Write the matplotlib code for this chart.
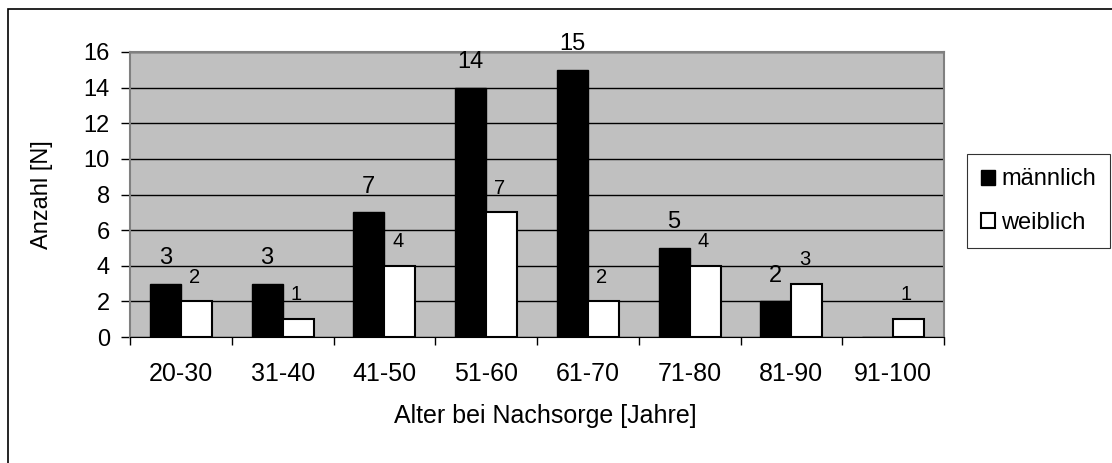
import matplotlib.pyplot as plt
import numpy as np
from matplotlib.patches import Rectangle

categories = ["20-30", "31-40", "41-50", "51-60", "61-70", "71-80", "81-90", "91-100"]
maennlich = [3, 3, 7, 14, 15, 5, 2, 0]
weiblich = [2, 1, 4, 7, 2, 4, 3, 1]

plt.rcParams["font.family"] = ["Liberation Sans", "DejaVu Sans"]

fig = plt.figure(figsize=(11.12, 4.63), dpi=100)
ax = fig.add_axes([130 / 1112, 1 - 337 / 463, 814 / 1112, 285 / 463])
ax.set_facecolor("#c0c0c0")

x = np.arange(len(categories))
w = 0.305
bars_m = ax.bar(x - w / 2, maennlich, w, color="black", edgecolor="black",
                linewidth=1, label="männlich", zorder=3)
bars_w = ax.bar(x + w / 2, weiblich, w, color="white", edgecolor="black",
                linewidth=1.5, label="weiblich", zorder=3)

# value labels, Excel style (no label for zero)
for xi, v in zip(x, maennlich):
    if v:
        ax.annotate(str(v), (xi - w / 2, v), xytext=(0, 14), textcoords="offset points",
                    ha="center", va="baseline", fontsize=17)
for xi, v in zip(x, weiblich):
    if v:
        ax.annotate(str(v), (xi + w / 2, v), xytext=(-1.5, 13.5), textcoords="offset points",
                    ha="center", va="baseline", fontsize=14.5)

ax.set_xlim(-0.5, len(categories) - 0.5)
ax.set_ylim(0, 16)
ax.set_yticks(range(0, 17, 2))
ax.yaxis.grid(True, color="black", linewidth=1, zorder=0)
ax.set_axisbelow(True)

ax.set_xticks(x)
ax.set_xticklabels(categories, fontsize=18)
ax.set_xticks(np.arange(-0.5, len(categories)), minor=True)
ax.tick_params(axis="x", which="major", length=0, pad=18)
ax.tick_params(axis="x", which="minor", length=6, color="black", width=1)
ax.tick_params(axis="y", length=6.5, labelsize=17, width=1, pad=8)

for side in ["top", "right", "left"]:
    ax.spines[side].set_color("#808080")
    ax.spines[side].set_linewidth(1.5)
ax.spines["bottom"].set_color("black")

ax.set_xlabel("Alter bei Nachsorge [Jahre]", fontsize=18)
ax.set_ylabel("Anzahl [N]", fontsize=17)
ax.xaxis.set_label_coords(0.51, -0.235)
ax.yaxis.set_label_coords(-0.094, 0.5)

leg = fig.legend(handles=[bars_m, bars_w], loc="center left",
                 bbox_to_anchor=(967 / 1112, 1 - 201 / 463), fontsize=17,
                 frameon=True, fancybox=False, edgecolor="black",
                 handlelength=0.6, handleheight=0.6, handletextpad=0.25,
                 borderpad=0.6, labelspacing=0.9, borderaxespad=0)
leg.get_frame().set_linewidth(0.8)

# outer chart border
fig.patches.append(Rectangle((8 / 1112, -0.01), 1.1, 1 - 9 / 463 + 0.01,
                             transform=fig.transFigure, fill=False,
                             edgecolor="black", linewidth=1.2))

fig.savefig("out.png", dpi=100)
